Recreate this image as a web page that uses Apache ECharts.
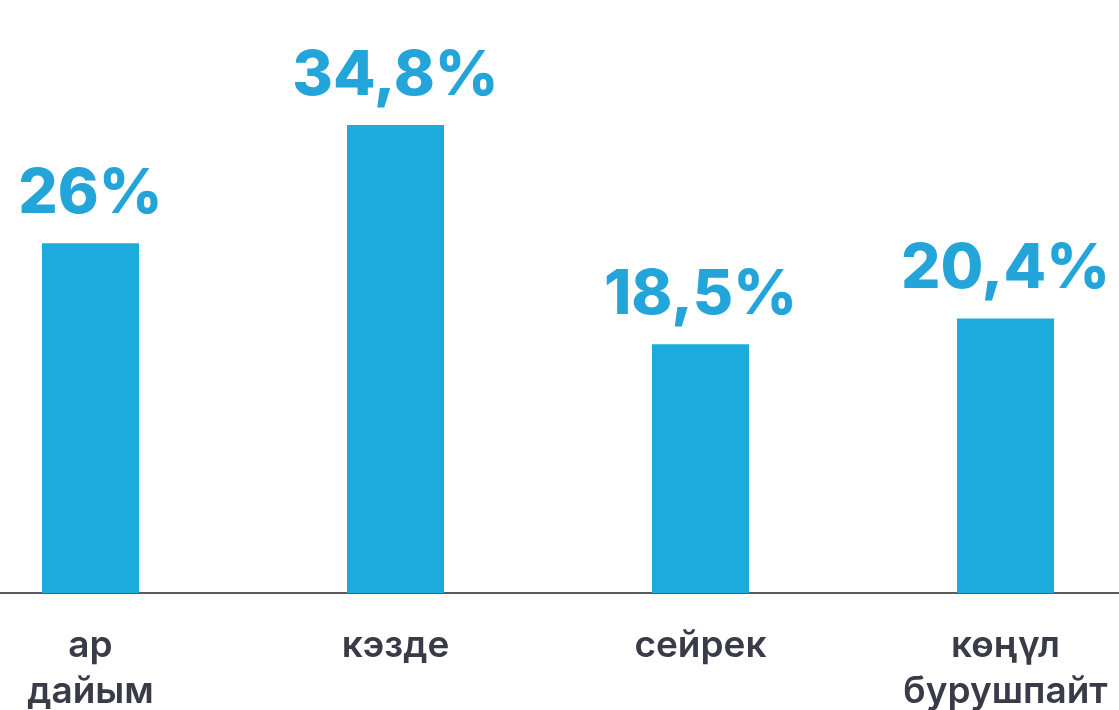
<!DOCTYPE html>
<html><head><meta charset="utf-8">
<script src="https://cdn.jsdelivr.net/npm/echarts@6/dist/echarts.min.js"></script>
<style>html,body{margin:0;padding:0;background:#fff}#c{width:1119px;height:710px}</style>
</head><body><div id="c"></div>
<script>
const categories = ['ар\nдайым', 'кэзде', 'сейрек', 'көңүл\nбурушпайт'];
const values = [26, 34.8, 18.5, 20.4];
const valueLabels = ['26%', '34,8%', '18,5%', '20,4%'];

const chart = echarts.init(document.getElementById('c'));
chart.setOption({
  backgroundColor: '#ffffff',
  animation: false,
  grid: { left: -62, right: -39, top: 55, bottom: 117, outerBoundsMode: 'none', containLabel: false },
  xAxis: {
    type: 'category',
    data: categories,
    axisLine: { show: true, lineStyle: { color: '#5a5a5a', width: 2 } },
    axisTick: { show: false },
    axisLabel: {
      color: '#3a3a48', fontSize: 37, fontWeight: 600,
      fontFamily: 'Inter, "Open Sans", sans-serif',
      margin: 30, lineHeight: 46, interval: 0
    }
  },
  yAxis: { type: 'value', min: 0, max: 40, show: false, splitLine: { show: false } },
  series: [{
    type: 'bar',
    data: values,
    barWidth: 97,
    itemStyle: { color: '#1BABDD' },
    label: {
      show: true, position: 'top', distance: 18,
      color: '#23A5DA', fontSize: 62, fontWeight: 800,
      fontFamily: 'Inter, "Open Sans", sans-serif',
      formatter: p => valueLabels[p.dataIndex]
    }
  }]
});
</script></body></html>
